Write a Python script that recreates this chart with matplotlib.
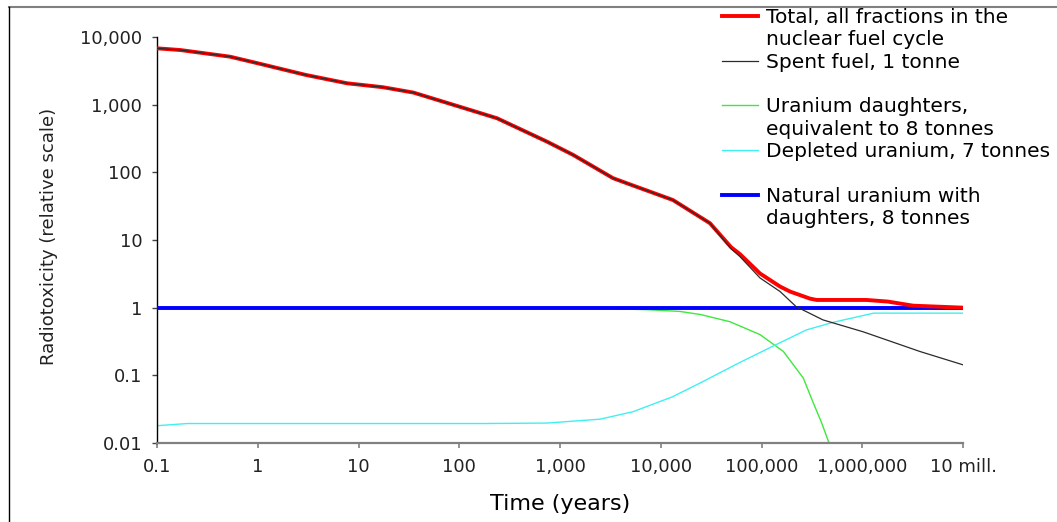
import matplotlib
matplotlib.use("Agg")
import matplotlib.pyplot as plt
from matplotlib.lines import Line2D
from matplotlib.ticker import FixedLocator, FixedFormatter, NullLocator

# values (time in years, relative radiotoxicity)
total_years = [0.1, 0.17, 0.53, 1, 3, 7.7, 17.5, 35, 128, 237, 743, 1350, 3360, 4600,
               13200, 30800, 50000, 61000, 96600, 153000, 192000, 303000, 353000,
               1.1e6, 1.8e6, 3.2e6, 1e7]
total_tox = [6800, 6420, 5120, 4090, 2750, 2070, 1810, 1510, 836, 630, 284, 181, 82, 69,
             39, 17.7, 7.8, 6.2, 3.2, 2.05, 1.73, 1.36, 1.30,
             1.30, 1.23, 1.07, 1.0]

spent_years = [0.1, 0.17, 0.53, 1, 3, 7.7, 17.5, 35, 128, 237, 743, 1350, 3360, 4600,
               13200, 30800, 50000, 61000, 96600, 153000, 220000, 407000, 1.02e6,
               3.74e6, 1e7]
spent_tox = [6800, 6420, 5120, 4090, 2750, 2070, 1810, 1510, 836, 630, 284, 181, 82, 69,
             39, 17.7, 7.4, 5.7, 2.75, 1.73, 1.04, 0.66, 0.44,
             0.225, 0.143]

daughters_years = [0.1, 2000, 7800, 15500, 25000, 48600, 96600, 165000, 260000, 327000,
                   396000, 468000]
daughters_tox = [0.99, 0.99, 0.93, 0.88, 0.79, 0.62, 0.40, 0.225, 0.091, 0.039,
                 0.0197, 0.01]

depleted_years = [0.1, 0.2, 174, 740, 2500, 5300, 13000, 25000, 60000, 130000, 280000,
                  520000, 1.3e6, 1e7]
depleted_tox = [0.018, 0.0194, 0.0194, 0.0197, 0.0225, 0.029, 0.048, 0.078, 0.153, 0.27,
                0.47, 0.61, 0.83, 0.83]

natural_years = [0.1, 1e7]
natural_tox = [1.0, 1.0]

x_ticks = [0.1, 1, 10, 100, 1e3, 1e4, 1e5, 1e6, 1e7]
x_labels = ["0.1", "1", "10", "100", "1,000", "10,000", "100,000", "1,000,000", "10 mill."]
y_ticks = [0.01, 0.1, 1, 10, 100, 1000, 10000]
y_labels = ["0.01", "0.1", "1", "10", "100", "1,000", "10,000"]

fig = plt.figure(figsize=(10.57, 5.22), dpi=100)
ax = fig.add_axes([157 / 1057, 79 / 522, 806 / 1057, 406 / 522])

ax.plot(daughters_years, daughters_tox, color="#3fe83f", lw=1.0, zorder=2)
ax.plot(depleted_years, depleted_tox, color="#40f0f0", lw=1.0, zorder=2)
ax.plot(natural_years, natural_tox, color="#0000ff", lw=2.8, zorder=3)
ax.plot(total_years, total_tox, color="#ff0000", lw=2.8, zorder=4)
ax.plot(spent_years, spent_tox, color="#2a2a2a", lw=0.9, zorder=5)

ax.set_xscale("log")
ax.set_yscale("log")
ax.set_xlim(0.1, 1e7)
ax.set_ylim(0.01, 10000)

ax.xaxis.set_major_locator(FixedLocator(x_ticks))
ax.xaxis.set_major_formatter(FixedFormatter(x_labels))
ax.xaxis.set_minor_locator(NullLocator())
ax.yaxis.set_major_locator(FixedLocator(y_ticks))
ax.yaxis.set_major_formatter(FixedFormatter(y_labels))
ax.yaxis.set_minor_locator(NullLocator())

for side in ["top", "right"]:
    ax.spines[side].set_visible(False)
ax.spines["bottom"].set_color("#808080")
ax.spines["bottom"].set_linewidth(1.6)
ax.spines["left"].set_color("black")
ax.spines["left"].set_linewidth(1.0)

ax.tick_params(axis="x", direction="out", length=3.6, width=1.2, color="#808080",
               pad=7.5, labelsize=13, labelcolor="#222222")
ax.tick_params(axis="y", direction="out", length=3.6, width=1.0, color="#444444",
               pad=7, labelsize=13, labelcolor="#222222")

ax.set_xlabel("Time (years)", fontsize=16, color="black")
ax.xaxis.set_label_coords(0.5, -0.125)
ax.set_ylabel("Radiotoxicity (relative scale)", fontsize=13, color="#222222")
ax.yaxis.set_label_coords(-0.123, 0.51)

# legend: one row per text line, extra lines get an invisible handle
blank = Line2D([], [], color="none")
handles = [
    Line2D([], [], color="#ff0000", lw=2.8), blank,
    Line2D([], [], color="#2a2a2a", lw=0.9),
    blank,
    Line2D([], [], color="#3fe83f", lw=1.0), blank,
    Line2D([], [], color="#40f0f0", lw=1.0),
    blank,
    Line2D([], [], color="#0000ff", lw=2.8), blank,
]
labels = [
    "Total, all fractions in the", "nuclear fuel cycle",
    "Spent fuel, 1 tonne",
    " ",
    "Uranium daughters,", "equivalent to 8 tonnes",
    "Depleted uranium, 7 tonnes",
    " ",
    "Natural uranium with", "daughters, 8 tonnes",
]
fig.legend(handles, labels, loc="upper left", bbox_to_anchor=(722 / 1057, 1 - 8 / 522),
           frameon=False, borderpad=0, borderaxespad=0, labelspacing=0.165,
           handlelength=1.8, handletextpad=0.4, fontsize=14.5)

# frame lines around the picture (top and left only)
fig.add_artist(Line2D([9 / 1057, 1], [1 - 7 / 522, 1 - 7 / 522],
                      transform=fig.transFigure, color="#808080", lw=1.5))
fig.add_artist(Line2D([9 / 1057, 9 / 1057], [0, 1 - 7 / 522],
                      transform=fig.transFigure, color="black", lw=1.0))

fig.savefig("out.png", dpi=100)
